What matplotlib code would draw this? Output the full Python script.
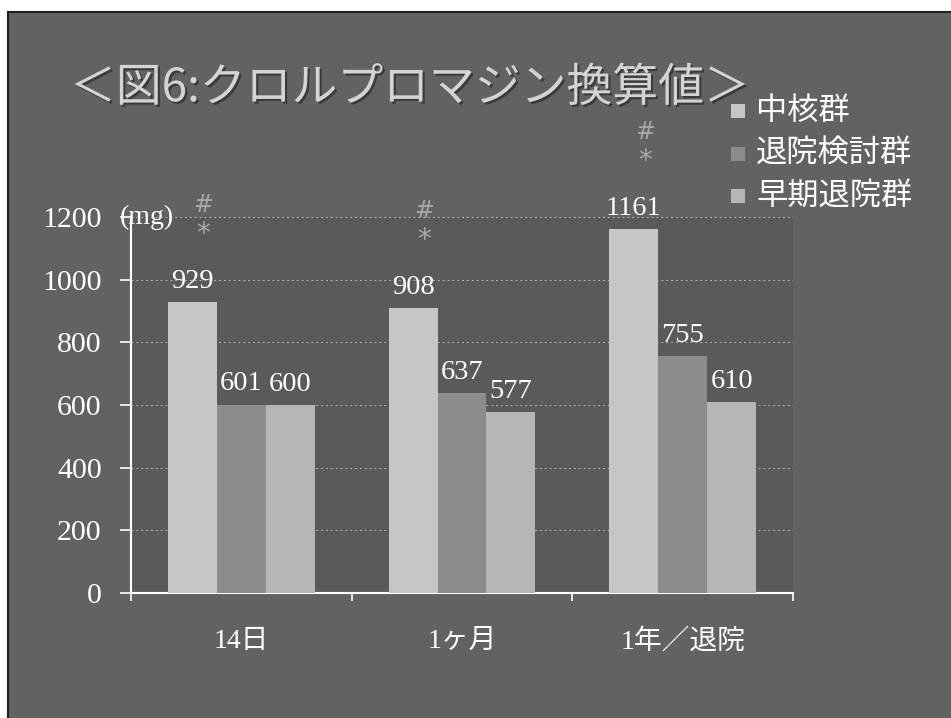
from matplotlib import pyplot as plt
from matplotlib.patches import Rectangle
import matplotlib.patheffects as pe
import numpy as np

plt.rcParams['font.family'] = ['Liberation Serif', 'Noto Sans CJK JP']

# クロルプロマジン換算値 (mg)
periods = ['14日', '1ヶ月', '1年／退院']
groups = ['中核群', '退院検討群', '早期退院群']
chukaku = [929, 908, 1161]
taiin_kento = [601, 637, 755]
soki_taiin = [600, 577, 610]
values = [chukaku, taiin_kento, soki_taiin]

colors = ['#c6c6c6', '#8c8c8c', '#b6b6b6']
bg = '#626262'
txt = '#ffffff'

fig = plt.figure(figsize=(9.51, 7.18), dpi=100, facecolor='white')
# slide background
fig.patches.append(Rectangle((8 / 951, -0.01), 1, 1.01 - 12 / 718, transform=fig.transFigure,
                             facecolor=bg, edgecolor='#202020', linewidth=1.5, zorder=-10))

ax = fig.add_axes([131 / 951, 125 / 718, 662 / 951, 376 / 718])
ax.set_facecolor('#5a5a5a')

x = np.arange(len(periods))
w = 0.222
for i, (vals, c) in enumerate(zip(values, colors)):
    pos = x + (i - 1) * w
    bars = ax.bar(pos, vals, width=w, color=c, zorder=3, label=groups[i])
    for b, v in zip(bars, vals):
        ax.annotate(str(v), (b.get_x() + b.get_width() / 2, v), xytext=(0, 6),
                    textcoords='offset points', ha='center', va='bottom',
                    color=txt, fontsize=20.5, family='Liberation Serif', zorder=5)

# 有意差の記号
for xi, v in zip(x - w, chukaku):
    ax.annotate('*', (xi, v), xytext=(8, 49), textcoords='offset points',
                ha='center', va='center', color='#a8a8a8', fontsize=20,
                family='DejaVu Sans', annotation_clip=False)
    ax.annotate('#', (xi, v), xytext=(8, 70), textcoords='offset points',
                ha='center', va='center', color='#a8a8a8', fontsize=17,
                family='DejaVu Sans', annotation_clip=False)

ax.set_xlim(-0.5, 2.5)
ax.set_ylim(0, 1200)
ax.set_yticks(np.arange(0, 1201, 200))
ax.yaxis.grid(True, linestyle=(0, (2, 3)), color='#c8c8c8', linewidth=0.7, alpha=0.8, zorder=0)
ax.set_axisbelow(True)

ax.set_xticks([-0.5, 0.5, 1.5, 2.5])
ax.set_xticklabels([])
ax.set_xticks(x, minor=True)
ax.set_xticklabels(periods, minor=True, fontsize=20, color=txt)
ax.tick_params(axis='x', which='major', direction='out', length=6, color=txt, width=1.2)
ax.tick_params(axis='x', which='minor', length=0, pad=26)
ax.tick_params(axis='y', direction='out', length=8, color=txt, width=1.2, pad=13,
               labelsize=21.5, labelcolor=txt)

for s in ['top', 'right']:
    ax.spines[s].set_visible(False)
for s in ['left', 'bottom']:
    ax.spines[s].set_color(txt)
    ax.spines[s].set_linewidth(1.5)

ax.text(-0.55, 1200, '(mg)', color=txt, fontsize=20, family='Liberation Serif',
        ha='left', va='center', zorder=6)

# title
fig.text(70 / 951, 1 - 88 / 718, '＜図6:クロルプロマジン換算値＞', family=['Noto Sans CJK JP', 'DejaVu Sans'],
         fontsize=33, color='#d4d4d4', ha='left', va='center',
         path_effects=[pe.withSimplePatchShadow(offset=(1.5, -1.5), shadow_rgbFace='#303030', alpha=0.8)])

# legend
leg_y = [111, 154, 196]
for name, c, yy in zip(groups, colors, leg_y):
    fy = 1 - yy / 718
    fig.patches.append(Rectangle((731 / 951, fy - 7 / 718), 14 / 951, 14 / 718,
                                 transform=fig.transFigure, facecolor=c, edgecolor='none'))
    fig.text(756 / 951, fy, name, family=['Noto Sans CJK JP', 'DejaVu Sans'], fontsize=22.5,
             color=txt, ha='left', va='center')

fig.savefig('out.png', dpi=100, facecolor=fig.get_facecolor())
